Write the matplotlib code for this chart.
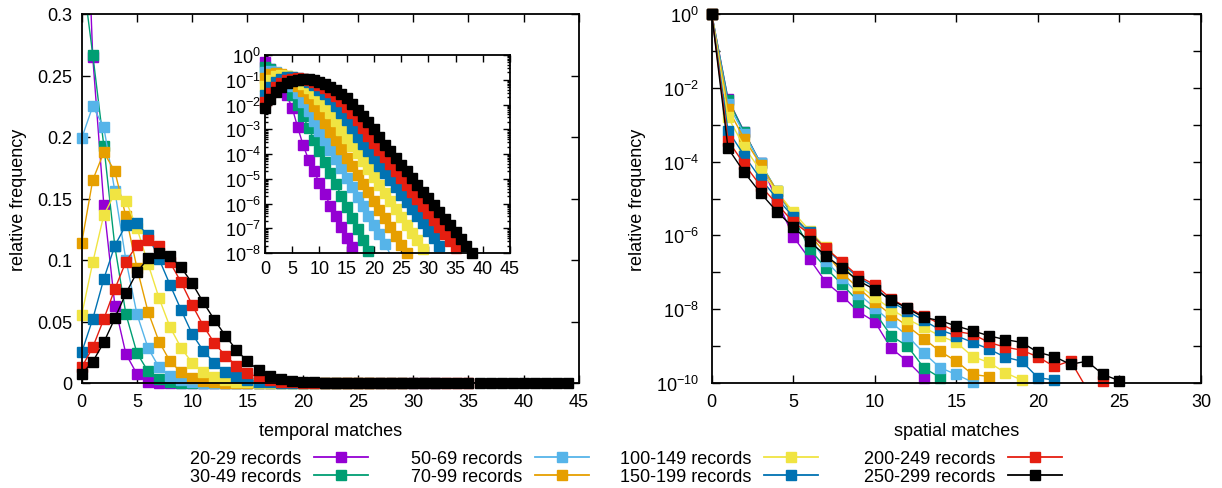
import numpy as np
import matplotlib
matplotlib.use("Agg")
import matplotlib.pyplot as plt
from matplotlib.lines import Line2D
from matplotlib.ticker import MultipleLocator, FixedLocator, FuncFormatter, LogLocator, NullFormatter

plt.rcParams["font.family"] = ["Liberation Sans", "DejaVu Sans"]
plt.rcParams["font.size"] = 13
plt.rcParams["mathtext.default"] = "regular"

# ---- SERIES ----
LABELS = ["20-29 records", "30-49 records", "50-69 records", "70-99 records",
          "100-149 records", "150-199 records", "200-249 records", "250-299 records"]
COLORS = ["#9400d3", "#009e73", "#56b4e9", "#e69f00",
          "#f0e442", "#0072b2", "#e51e10", "#000000"]

# temporal matches, relative frequency for k = 0, 1, 2, ...
temporal_20_29 = [0.50, 0.265, 0.145, 0.063, 0.0236, 0.0073, 1.2e-3, 2.3e-4, 5.9e-5, 2.0e-5,
                  6.8e-6, 2.4e-6, 8.1e-7, 3.0e-7, 1.1e-7, 3.9e-8, 1.7e-8, 6e-9]
temporal_30_49 = [0.337, 0.267, 0.193, 0.111, 0.056, 0.0244, 0.0095, 0.0033, 1.1e-3, 3.8e-4,
                  1.35e-4, 4.8e-5, 1.7e-5, 6.0e-6, 2.1e-6, 7.5e-7, 2.7e-7, 9.5e-8, 3.4e-8, 1.2e-8,
                  4e-9]
temporal_50_69 = [0.199, 0.225, 0.208, 0.156, 0.10, 0.056, 0.0285, 0.0127, 0.0055, 0.0021,
                  8.8e-4, 3.6e-4, 1.5e-4, 6.3e-5, 2.6e-5, 1.1e-5, 4.5e-6, 1.9e-6, 7.8e-7, 3.2e-7,
                  1.35e-7, 5.6e-8, 2.3e-8, 9e-9]
temporal_70_99 = [0.114, 0.165, 0.1875, 0.172, 0.1355, 0.0935, 0.058, 0.0336, 0.0176, 0.0087,
                  0.0040, 1.8e-3, 8e-4, 3.6e-4, 1.6e-4, 7e-5, 3.2e-5, 1.4e-5, 6.3e-6, 2.8e-6,
                  1.26e-6, 5.6e-7, 2.5e-7, 1.1e-7, 5e-8, 2.2e-8, 1e-8]
temporal_100_149 = [0.0553, 0.098, 0.1366, 0.154, 0.148, 0.126, 0.097, 0.069, 0.0453, 0.0285,
                    0.0163, 0.0087, 0.0045, 2.1e-3, 9.5e-4, 4.6e-4, 2.2e-4, 1.05e-4, 5e-5, 2.4e-5,
                    1.15e-5, 5.5e-6, 2.6e-6, 1.25e-6, 6e-7, 2.9e-7, 1.4e-7, 6.6e-8, 3.2e-8, 1.5e-8]
temporal_150_199 = [0.025, 0.052, 0.0846, 0.1117, 0.1285, 0.13, 0.12, 0.1008, 0.0797, 0.0593,
                    0.0398, 0.0263, 0.0163, 0.0090, 0.0047, 2.3e-3, 1.1e-3, 5e-4, 2.55e-4, 1.3e-4,
                    6.6e-5, 3.4e-5, 1.7e-5, 8.9e-6, 4.5e-6, 2.3e-6, 1.2e-6, 6e-7, 3.1e-7, 1.6e-7,
                    7.9e-8, 4e-8, 2e-8]
temporal_200_249 = [0.0127, 0.029, 0.052, 0.0764, 0.0986, 0.112, 0.116, 0.1117, 0.098, 0.0818,
                    0.0634, 0.0466, 0.0325, 0.0222, 0.0141, 0.0081, 0.0045, 0.0023, 0.0011, 5.2e-4,
                    2.7e-4, 1.4e-4, 7.3e-5, 3.8e-5, 2e-5, 1.05e-5, 5.4e-6, 2.8e-6, 1.5e-6, 7.7e-7,
                    4e-7, 2.1e-7, 1.1e-7, 5.7e-8, 3e-8, 1.6e-8]
temporal_250_299 = [0.0073, 0.0173, 0.033, 0.0526, 0.0729, 0.09, 0.1014, 0.1057, 0.103, 0.094,
                    0.081, 0.0656, 0.0515, 0.0385, 0.0268, 0.0176, 0.0106, 0.006, 0.0035, 0.0019,
                    9.8e-4, 4.9e-4, 2.4e-4, 1.3e-4, 6.9e-5, 3.7e-5, 2e-5, 1.05e-5, 5.6e-6, 3e-6,
                    1.6e-6, 8.5e-7, 4.5e-7, 2.4e-7, 1.3e-7, 6.8e-8, 3.6e-8, 1.9e-8, 1e-8, 5e-9,
                    2.6e-9, 1.4e-9, 7e-10, 3.7e-10, 2e-10]

# spatial matches, relative frequency for k = 0, 1, 2, ...
spatial_20_29 = [1.0, 5.0e-3, 6.3e-4, 8.9e-5, 8.9e-6, 9.3e-7, 2.3e-7, 5.4e-8, 2.3e-8, 8.5e-9,
                 4.6e-9, 8.7e-10, 3.9e-10, 1.4e-10, 4e-11]
spatial_30_49 = [1.0, 4.8e-3, 6.2e-4, 8.9e-5, 1.6e-5, 3.2e-6, 4.3e-7, 1.3e-7, 4.7e-8, 1.6e-8,
                 8.3e-9, 1.9e-9, 1.0e-9, 2.6e-10, 1.4e-10, 4e-11]
spatial_50_69 = [1.0, 3.6e-3, 5.6e-4, 8.9e-5, 1.6e-5, 3.5e-6, 8.9e-7, 2.0e-7, 7.1e-8, 2.6e-8,
                 1.1e-8, 4.4e-9, 1.9e-9, 6.5e-10, 2.6e-10, 1.7e-10, 1.05e-10, 4e-11]
spatial_70_99 = [1.0, 2.7e-3, 4.1e-4, 8.3e-5, 1.6e-5, 3.8e-6, 1.05e-6, 3.2e-7, 9.5e-8, 3.7e-8,
                 1.55e-8, 7.1e-9, 3.5e-9, 1.6e-9, 7.2e-10, 3.9e-10, 1.7e-10, 1.5e-10, 5e-11]
spatial_100_149 = [1.0, 1.6e-3, 2.5e-4, 5.6e-5, 1.55e-5, 4.3e-6, 1.35e-6, 4.7e-7, 1.8e-7, 4.6e-8,
                   2.1e-8, 1.0e-8, 5.4e-9, 3.2e-9, 1.9e-9, 1.26e-9, 5.2e-10, 3.6e-10, 1.9e-10,
                   1.2e-10, 5e-11]
spatial_150_199 = [1.0, 6.9e-4, 1.45e-4, 3.4e-5, 1.0e-5, 3.2e-6, 1.2e-6, 4.4e-7, 1.7e-7, 7.1e-8,
                   4.0e-8, 1.6e-8, 8.9e-9, 5.0e-9, 2.75e-9, 1.9e-9, 1.26e-9, 8.3e-10, 5.0e-10,
                   3.9e-10, 1.4e-10, 1.2e-10, 4e-11]
spatial_200_249 = [1.0, 3.7e-4, 8.5e-5, 2.2e-5, 7.1e-6, 2.3e-6, 1.1e-6, 4.5e-7, 1.9e-7, 7.8e-8,
                   4.6e-8, 1.9e-8, 1.1e-8, 6.6e-9, 4.0e-9, 2.5e-9, 2.1e-9, 1.26e-9, 9.3e-10,
                   7.8e-10, 5.1e-10, 2.8e-10, 4.0e-10, 7e-11, 1.15e-10, 3e-11]
spatial_250_299 = [1.0, 2.3e-4, 5.1e-5, 1.4e-5, 4.4e-6, 1.66e-6, 6.9e-7, 2.8e-7, 1.3e-7, 5.9e-8,
                   3.4e-8, 1.8e-8, 1.05e-8, 6.0e-9, 4.9e-9, 3.5e-9, 2.6e-9, 1.9e-9, 1.5e-9,
                   1.26e-9, 6.8e-10, 5.2e-10, 3.2e-10, 3.9e-10, 1.7e-10, 1.15e-10, 3e-11]

temporal = [temporal_20_29, temporal_30_49, temporal_50_69, temporal_70_99,
            temporal_100_149, temporal_150_199, temporal_200_249, temporal_250_299]
spatial = [spatial_20_29, spatial_30_49, spatial_50_69, spatial_70_99,
           spatial_100_149, spatial_150_199, spatial_200_249, spatial_250_299]

W, H = 1222, 489
fig = plt.figure(figsize=(W / 100, H / 100), dpi=100)


def px_axes(x0, y0, x1, y1):
    return fig.add_axes([x0 / W, 1 - y1 / H, (x1 - x0) / W, (y1 - y0) / H])


ax1 = px_axes(81.7, 15, 579, 384)
ax2 = px_axes(711.7, 15, 1201, 384)
axin = px_axes(265, 56, 510, 254)

MS = 6.5
LW = 1.0


def draw(ax, data, xlim, ylim):
    # lines are clipped to the frame, points inside the range are drawn whole
    for vals, c in zip(data, COLORS):
        x = np.arange(len(vals))
        y = np.array(vals)
        ax.plot(x, y, color=c, lw=LW)
        ok = (x >= xlim[0]) & (x <= xlim[1]) & (y >= ylim[0]) & (y <= ylim[1])
        ax.plot(x[ok], y[ok], ls="none", color=c, marker="s", ms=MS, clip_on=False)
    ax.set_xlim(*xlim)
    ax.set_ylim(*ylim)


def style(ax, pad):
    ax.tick_params(which="both", direction="in", top=True, right=True, width=1, pad=pad)
    ax.tick_params(which="major", length=6)
    ax.tick_params(which="minor", length=3)
    for s in ax.spines.values():
        s.set_linewidth(1.3)


def log_label(v, pos):
    return r"$10^{%d}$" % int(round(np.log10(v)))


# ---- LEFT: temporal, linear ----
draw(ax1, temporal, (0, 45), (0, 0.3))
ax1.xaxis.set_major_locator(MultipleLocator(5))
ax1.yaxis.set_major_locator(MultipleLocator(0.05))
ax1.yaxis.set_major_formatter(FuncFormatter(lambda v, p: "%g" % round(v, 2)))
style(ax1, 7)
ax1.set_xlabel("temporal matches")
ax1.set_ylabel("relative frequency")
ax1.xaxis.set_label_coords(0.5, -(432 - 384) / 369)
ax1.xaxis.label.set_va("center")
ax1.yaxis.set_label_coords((18 - 81.7) / 497.3, 0.5)
ax1.yaxis.label.set_va("center")

# ---- INSET: temporal, log ----
axin.set_facecolor("white")
axin.set_yscale("log")
draw(axin, temporal, (0, 45), (1e-8, 1))
axin.xaxis.set_major_locator(MultipleLocator(5))
axin.yaxis.set_major_locator(LogLocator(base=10, numticks=20))
axin.yaxis.set_minor_locator(LogLocator(base=10, subs=np.arange(2, 10), numticks=20))
axin.yaxis.set_major_formatter(FuncFormatter(log_label))
axin.yaxis.set_minor_formatter(NullFormatter())
style(axin, 3)
axin.tick_params(axis="x", pad=5)
axin.tick_params(which="major", length=5)
axin.tick_params(which="minor", length=2.5)

# ---- RIGHT: spatial, log ----
ax2.set_yscale("log")
draw(ax2, spatial, (0, 30), (1e-10, 1))
ax2.xaxis.set_major_locator(MultipleLocator(5))
ax2.yaxis.set_major_locator(FixedLocator([1e0, 1e-2, 1e-4, 1e-6, 1e-8, 1e-10]))
ax2.yaxis.set_minor_locator(FixedLocator([1e-1, 1e-3, 1e-5, 1e-7, 1e-9]))
ax2.yaxis.set_major_formatter(FuncFormatter(log_label))
ax2.yaxis.set_minor_formatter(NullFormatter())
style(ax2, 9)
ax2.tick_params(axis="x", pad=7)
ax2.tick_params(which="minor", length=6)
ax2.set_xlabel("spatial matches")
ax2.set_ylabel("relative frequency")
ax2.xaxis.set_label_coords(0.5, -(432 - 384) / 369)
ax2.xaxis.label.set_va("center")
ax2.yaxis.set_label_coords((637 - 711.7) / 489.3, 0.5)
ax2.yaxis.label.set_va("center")

# ---- LEGEND: four columns, text left of sample ----
handles = [Line2D([], [], color=c, lw=1.3, marker="s", ms=MS) for c in COLORS]
col_right = [368, 589, 818, 1062]
for i, xr in enumerate(col_right):
    leg = fig.legend(handles[2 * i:2 * i + 2], LABELS[2 * i:2 * i + 2],
                     loc="upper right", bbox_to_anchor=(xr / W, 1 - 451 / H),
                     frameon=False, markerfirst=False, handlelength=3.0,
                     handletextpad=0.7, borderpad=0, borderaxespad=0,
                     labelspacing=0.06, fontsize=13)

fig.savefig("out.png", dpi=100)
